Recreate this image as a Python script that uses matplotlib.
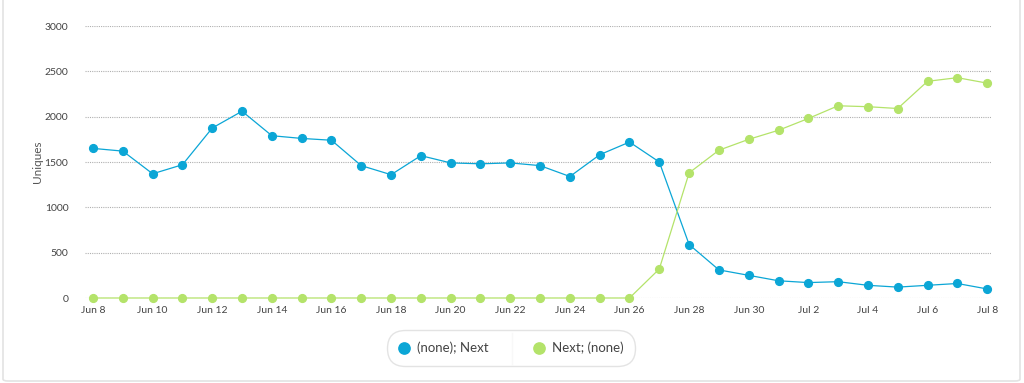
import matplotlib
matplotlib.use('Agg')
import matplotlib.pyplot as plt
from matplotlib.patches import FancyBboxPatch
from matplotlib.lines import Line2D
import pandas as pd

plt.rcParams['font.family'] = ['Lato', 'DejaVu Sans']

# data, one value per day Jun 8 .. Jul 8
days = pd.date_range('2016-06-08', '2016-07-08', freq='D')
none_next = [1650, 1620, 1370, 1470, 1875, 2060, 1790, 1760, 1740, 1460,
             1360, 1570, 1490, 1480, 1490, 1460, 1340, 1580, 1720, 1500,
             590, 310, 250, 190, 170, 180, 140, 120, 140, 160, 100]
next_none = [0, 0, 0, 0, 0, 0, 0, 0, 0, 0,
             0, 0, 0, 0, 0, 0, 0, 0, 0, 320,
             1380, 1630, 1750, 1850, 1980, 2120, 2110, 2090, 2390, 2430, 2370]
series_names = ['(none); Next', 'Next; (none)']
colors = ['#0ba6d6', '#b4e36a']
yticks = [0, 500, 1000, 1500, 2000, 2500, 3000]

fig = plt.figure(figsize=(10.24, 3.83), dpi=100)

# light outer frame
frame = FancyBboxPatch((3 / 1024, 2 / 383), 1017 / 1024, 1.1,
                       boxstyle='round,pad=0,rounding_size=0.005',
                       transform=fig.transFigure, facecolor='none',
                       edgecolor='#e3e3e3', linewidth=1.2)
fig.patches.append(frame)

ax = fig.add_axes([85 / 1024, 1 - 298 / 383, 906 / 1024, 272 / 383])
x = list(range(len(days)))
for vals, name, c in zip([none_next, next_none], series_names, colors):
    ax.plot(x, vals, color=c, lw=0.9, marker='o', ms=5.6, mec=c, mfc=c,
            label=name, clip_on=False, zorder=3)

ax.set_ylim(0, 3000)
ax.set_xlim(-0.27, len(days) - 1 + 0.13)
ax.set_yticks(yticks)
ax.set_xticks(x[::2])
ax.set_xticklabels([d.strftime('%b ') + str(d.day) for d in days[::2]])
ax.grid(axis='y', linestyle=(0, (1, 1)), color='#b0b0b0', lw=0.8)
ax.grid(axis='x', visible=False)
for s in ax.spines.values():
    s.set_visible(False)
ax.tick_params(length=0, labelsize=7.5, colors='#444444')
ax.tick_params(axis='y', pad=12)
ax.tick_params(axis='x', pad=6)
ax.set_ylabel('Uniques', fontsize=8.5, color='#555555', labelpad=1)

leg = fig.legend(loc='center', bbox_to_anchor=(511 / 1024, 1 - 348 / 383),
                 ncol=2, frameon=True, fontsize=9.5, handlelength=0.8,
                 handletextpad=0.6, columnspacing=3.4, borderpad=0.9,
                 borderaxespad=0, markerscale=1.45)
for h in leg.legend_handles:
    h.set_linestyle('none')
for t in leg.get_texts():
    t.set_color('#444444')
fr = leg.get_frame()
fr.set_boxstyle('round,pad=0,rounding_size=1.4')
fr.set_edgecolor('#dddddd')
fr.set_linewidth(1.0)
fig.add_artist(Line2D([512 / 1024, 512 / 1024], [1 - 333 / 383, 1 - 364 / 383],
                      transform=fig.transFigure, color='#dddddd', lw=1.0))

fig.savefig('out.png', dpi=100)
